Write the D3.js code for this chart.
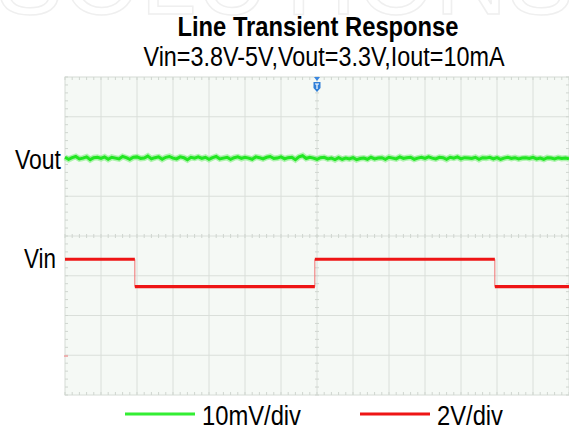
<!DOCTYPE html>
<html>
<head>
<meta charset="utf-8">
<script src="https://cdn.jsdelivr.net/npm/d3@7"></script>
<style>
  body { margin: 0; background: #fff; }
  svg text { font-family: "Liberation Sans Narrow", "Arial Narrow", "Liberation Sans", Arial, sans-serif; }
</style>
</head>
<body>
<div id="container"></div>
<script>
// scope screen: 14 horizontal divisions, 8 vertical
const divsX = 14;
const divsY = 8;

// Vin channel (2V/div), step levels in volts between edge times (in divisions)
const vinEdges = [0, 1.94, 6.94, 11.94, 14];
const vinLevels = [4.87, 3.49, 4.87, 3.49];

// Vout channel (10mV/div), ripple around 3.3V in mV, sampled every 0.1 div
const voutNominal = 3300;
const voutRipple = [
  0.2,-0.3,0.1,0.4,-0.2,0.0,0.3,-0.4,0.1,0.2,
  -0.1,0.3,-0.3,0.2,0.0,-0.2,0.4,0.1,-0.3,0.2,
  0.3,-0.1,0.0,0.5,-0.2,0.1,0.3,-0.3,0.2,0.4,
  0.0,-0.2,0.3,0.1,-0.4,0.2,0.0,0.3,-0.1,0.2,
  -0.3,0.1,0.4,-0.2,0.0,0.2,-0.3,0.1,0.3,-0.1,
  0.2,0.0,-0.3,0.3,0.1,-0.2,0.2,0.4,-0.1,0.0,
  0.3,-0.2,0.1,0.2,-0.4,0.3,0.6,-0.1,0.2,0.0,
  -0.3,0.1,0.2,-0.2,0.0,-0.4,0.1,-0.3,0.0,-0.2,
  0.1,-0.4,-0.1,0.0,-0.3,0.2,-0.2,0.0,0.1,-0.3,
  0.2,0.0,-0.2,0.3,-0.1,0.1,0.2,-0.3,0.0,0.2,
  -0.1,0.3,0.0,-0.2,0.2,0.1,-0.3,0.2,0.0,0.3,
  -0.2,0.1,0.0,-0.1,0.2,-0.3,0.1,0.0,0.2,-0.2,
  0.1,-0.3,0.0,0.2,-0.1,0.1,-0.2,0.0,0.1,-0.1,
  0.2,-0.2,0.0,-0.3,0.1,0.0,-0.2,0.1,-0.1,0.0,
  -0.2
];

const legendLabels = ["10mV/div", "2V/div"];
const legendColors = ["#33ee33", "#ee1515"];

let viz = d3.select("#container")
  .append("svg")
    .attr("width", 569)
    .attr("height", 430)
  ;

// faint watermark at the very top, mostly cut off
viz.append("text")
    .attr("x", -4)
    .attr("y", 14)
    .attr("textLength", 578)
    .attr("lengthAdjust", "spacing")
    .style("font-family", "Liberation Sans, Arial, sans-serif")
    .style("font-size", "100px")
    .attr("fill", "none")
    .attr("stroke", "#efefef")
    .attr("stroke-width", 1.5)
    .text("SOLUTIONS")
  ;

// titles
viz.append("text")
    .attr("x", 318).attr("y", 36)
    .attr("text-anchor", "middle")
    .style("font-size", "27px").style("font-weight", "bold")
    .attr("textLength", 281).attr("lengthAdjust", "spacingAndGlyphs")
    .text("Line Transient Response");

viz.append("text")
    .attr("x", 324).attr("y", 66)
    .attr("text-anchor", "middle")
    .style("font-size", "27px")
    .attr("textLength", 361).attr("lengthAdjust", "spacingAndGlyphs")
    .text("Vin=3.8V-5V,Vout=3.3V,Iout=10mA");

const plotLeft = 65, plotRight = 569, plotTop = 77, plotBottom = 395;

let x = d3.scaleLinear().domain([0, divsX]).range([plotLeft, plotRight]);
let yDiv = d3.scaleLinear().domain([0, divsY]).range([plotBottom, plotTop]);
// Vin: 2V/div, ground marker ~0.98 div above bottom
let yVin = d3.scaleLinear().domain([-1.96, -1.96 + 2 * divsY]).range([plotBottom, plotTop]);
// Vout: 10mV/div, 3.3V sits ~5.96 div above bottom
let yVout = d3.scaleLinear().domain([voutNominal - 59.6, voutNominal - 59.6 + 10 * divsY]).range([plotBottom, plotTop]);

let screen = viz.append("g").attr("class", "screen");

screen.append("rect")
    .attr("x", plotLeft).attr("y", plotTop)
    .attr("width", plotRight - plotLeft).attr("height", plotBottom - plotTop)
    .attr("fill", "#f5f9f5")
    .attr("stroke", "#d6dcd6");

// major grid
screen.selectAll(".vgrid").data(d3.range(1, divsX)).enter()
  .append("line")
    .attr("class", "vgrid")
    .attr("x1", d => x(d)).attr("x2", d => x(d))
    .attr("y1", plotTop).attr("y2", plotBottom)
    .attr("stroke", "#dadfda").attr("stroke-width", 1);

screen.selectAll(".hgrid").data(d3.range(1, divsY)).enter()
  .append("line")
    .attr("class", "hgrid")
    .attr("x1", plotLeft).attr("x2", plotRight)
    .attr("y1", d => yDiv(d)).attr("y2", d => yDiv(d))
    .attr("stroke", "#dadfda").attr("stroke-width", 1);

// minor ticks along edges and centre cross
let minorX = d3.range(0, divsX * 5 + 1).map(i => i / 5);
let minorY = d3.range(0, divsY * 5 + 1).map(i => i / 5);

let ticks = screen.append("g").attr("stroke", "#cfd5cf").attr("stroke-width", 1);
[[yDiv(divsY), 3], [yDiv(0), -3], [yDiv(divsY / 2), 2], [yDiv(divsY / 2), -2]].forEach(function(t){
  ticks.selectAll(null).data(minorX).enter()
    .append("line")
      .attr("x1", d => x(d)).attr("x2", d => x(d))
      .attr("y1", t[0]).attr("y2", t[0] + t[1]);
});
[[x(0), 3], [x(divsX), -3], [x(divsX / 2), 2], [x(divsX / 2), -2]].forEach(function(t){
  ticks.selectAll(null).data(minorY).enter()
    .append("line")
      .attr("y1", d => yDiv(d)).attr("y2", d => yDiv(d))
      .attr("x1", t[0]).attr("x2", t[0] + t[1]);
});

// Vout trace
let voutLine = d3.line()
    .x((d, i) => x(i * divsX / (voutRipple.length - 1)))
    .y(d => yVout(voutNominal + d));

screen.append("path")
    .datum(voutRipple)
    .attr("d", voutLine)
    .attr("fill", "none")
    .attr("stroke", "#7ef07e")
    .attr("stroke-width", 6)
    .attr("opacity", 0.6);

screen.append("path")
    .datum(voutRipple)
    .attr("d", voutLine)
    .attr("fill", "none")
    .attr("stroke", "#22e622")
    .attr("stroke-width", 3);

// Vin trace: thin edges, thick levels
let vinSteps = vinLevels.map((v, i) => ({t0: vinEdges[i], t1: vinEdges[i + 1], v: v}));

screen.selectAll(".vinEdge").data(vinSteps.slice(1)).enter()
  .append("line")
    .attr("class", "vinEdge")
    .attr("x1", d => x(d.t0)).attr("x2", d => x(d.t0))
    .attr("y1", (d, i) => yVin(vinSteps[i].v)).attr("y2", d => yVin(d.v))
    .attr("stroke", "#f07070").attr("stroke-width", 1);

screen.selectAll(".vinLevel").data(vinSteps).enter()
  .append("line")
    .attr("class", "vinLevel")
    .attr("x1", d => x(d.t0)).attr("x2", d => x(d.t1))
    .attr("y1", d => yVin(d.v)).attr("y2", d => yVin(d.v))
    .attr("stroke", "#ee1515").attr("stroke-width", 3.2);

// Vin ground marker
screen.append("line")
    .attr("x1", plotLeft - 1).attr("x2", plotLeft + 3)
    .attr("y1", yVin(0)).attr("y2", yVin(0))
    .attr("stroke", "#f0a0a0").attr("stroke-width", 1.5);

// trigger marker at top centre
let tx = x(divsX / 2);
screen.append("path")
    .attr("d", "M" + (tx - 3) + "," + plotTop + "L" + (tx + 3) + "," + plotTop + "L" + tx + "," + (plotTop + 4) + "Z")
    .attr("fill", "#3a86e0");
screen.append("path")
    .attr("d", "M" + (tx - 3.5) + "," + (plotTop + 5) + "h7v6l-3.5,4l-3.5,-4Z")
    .attr("fill", "#2f7fd8");
screen.append("path")
    .attr("d", "M" + (tx - 2) + "," + (plotTop + 7) + "h4M" + tx + "," + (plotTop + 7) + "v5")
    .attr("stroke", "#ffffff").attr("stroke-width", 1.2);

// channel labels
viz.append("text")
    .attr("x", 61).attr("y", 169)
    .attr("text-anchor", "end")
    .style("font-size", "27px")
    .attr("textLength", 46).attr("lengthAdjust", "spacingAndGlyphs")
    .text("Vout");

viz.append("text")
    .attr("x", 56).attr("y", 268)
    .attr("text-anchor", "end")
    .style("font-size", "27px")
    .attr("textLength", 32).attr("lengthAdjust", "spacingAndGlyphs")
    .text("Vin");

// legend
let legendX = [125, 360];
let legendW = [99, 66];
let legend = viz.selectAll(".legend").data(legendLabels).enter()
  .append("g")
    .attr("class", "legend")
    .attr("transform", (d, i) => "translate(" + legendX[i] + ",414)");

legend.append("line")
    .attr("x1", 0).attr("x2", 70)
    .attr("stroke", (d, i) => legendColors[i])
    .attr("stroke-width", 3);

legend.append("text")
    .attr("x", 77).attr("y", 11)
    .style("font-size", "27px")
    .attr("textLength", (d, i) => legendW[i]).attr("lengthAdjust", "spacingAndGlyphs")
    .text(d => d);
</script>
</body>
</html>
